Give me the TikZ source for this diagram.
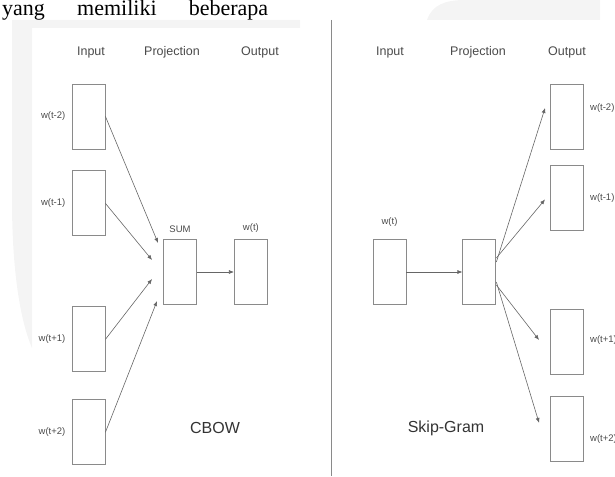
\documentclass[tikz,border=0pt]{standalone}
\usepackage{fontspec}
\setmainfont{Liberation Serif}
\newfontfamily\arial{Liberation Sans}
\usepackage{xcolor}
\usepackage{tikz}
\usetikzlibrary{positioning, arrows.meta}
\definecolor{boxgray}{HTML}{8A8A8A}
\definecolor{txtgray}{HTML}{4A4A4A}
\definecolor{wmark}{HTML}{F4F4F4}
\tikzset{
    vecbox/.style={rectangle, draw=boxgray, line width=0.9pt, fill=white, minimum width=33pt, minimum height=65pt, inner sep=0pt},
    head/.style={font=\arial\fontsize{12.5}{14}\selectfont, text=txtgray, inner sep=1pt},
    wlabel/.style={font=\arial\fontsize{9.5}{11}\selectfont, text=txtgray, inner sep=1pt},
    model/.style={font=\arial\fontsize{16}{18}\selectfont, text=black!80, inner sep=1pt},
    arrow/.style={-{Latex[length=5pt, width=4pt]}, draw=black!60, line width=0.6pt}
}

\begin{document}
\begin{tikzpicture}[x=1pt, y=-1pt]
        \useasboundingbox (0,0) rectangle (615,476);

        % Watermark
        \fill[wmark] (12,20) -- (300,20) -- (300,28) -- (32,28) -- (32,348)
            .. controls (20,320) and (12,270) .. (12,200) -- cycle;
        \fill[wmark] (427,20) .. controls (432,5) and (445,0) .. (465,0) -- (600,0) -- (600,20) -- cycle;

        % Page text
        \node[anchor=base west, inner sep=0pt, font=\fontsize{22}{25}\selectfont] (para) at (2,16)
            {\makebox[266pt][s]{yang memiliki beberapa}};

        % Separator
        \coordinate (septop) at (331,20);
        \coordinate (sepbot) at (331,476);
        \draw[boxgray, line width=0.9pt] (septop) -- (sepbot);

        % CBOW: headers
        \node[head] (chin) at (91,52) {Input};
        \node[head] (chproj) at (172,52) {Projection};
        \node[head] (chout) at (260,52) {Output};

        % CBOW: input words
        \node[vecbox] (cin1) at (88.5,116.5) {};
        \node[vecbox, below=21pt of cin1] (cin2) {};
        \node[vecbox, below=70pt of cin2] (cin3) {};
        \node[vecbox, below=27pt of cin3] (cin4) {};
        \node[wlabel, left=5pt of cin1] (lcin1) {w(t-2)};
        \node[wlabel, left=5pt of cin2] (lcin2) {w(t-1)};
        \node[wlabel, left=5pt of cin3] (lcin3) {w(t+1)};
        \node[wlabel, left=5pt of cin4] (lcin4) {w(t+2)};

        % CBOW: projection and output
        \node[vecbox] (sum) at (180,272) {};
        \node[vecbox, right=37pt of sum] (cout) {};
        \node[wlabel, above=5pt of sum] (lsum) {SUM};
        \node[wlabel, above=5pt of cout] (lcout) {w(t)};

        \coordinate (csum1) at ([shift={(-5,-29)}]sum.west);
        \coordinate (csum2) at ([shift={(-11,-12)}]sum.west);
        \coordinate (csum3) at ([shift={(-11,7)}]sum.west);
        \coordinate (csum4) at ([shift={(-6,29)}]sum.west);

        % CBOW: wires
        \foreach \i in {1,...,4}
            \draw[arrow] (cin\i.east) -- (csum\i);
        \draw[arrow] (sum) -- (cout);

        \node[model] (cbow) at (215,428) {CBOW};

        % Skip-Gram: headers
        \node[head] (shin) at (390,52) {Input};
        \node[head] (shproj) at (478,52) {Projection};
        \node[head] (shout) at (567,52) {Output};

        % Skip-Gram: input and projection
        \node[vecbox] (sin) at (389.5,272) {};
        \node[vecbox, right=56pt of sin] (proj) {};
        \node[wlabel, above=11pt of sin] (lsin) {w(t)};

        % Skip-Gram: output words
        \node[vecbox] (sout1) at (567,116.5) {};
        \node[vecbox, below=16pt of sout1] (sout2) {};
        \node[vecbox] (sout3) at (567,342) {};
        \node[vecbox, below=21pt of sout3] (sout4) {};
        \node[wlabel, right=5pt of sout1, yshift=8.5pt] (lsout1) {w(t-2)};
        \node[wlabel, right=5pt of sout2] (lsout2) {w(t-1)};
        \node[wlabel, right=5pt of sout3, yshift=2pt] (lsout3) {w(t+1)};
        \node[wlabel, right=5pt of sout4, yshift=-10pt] (lsout4) {w(t+2)};

        \coordinate (sp1) at ([yshift=10pt]proj.east);
        \coordinate (sp2) at ([yshift=14pt]proj.east);
        \coordinate (sp3) at ([yshift=-13pt]proj.east);
        \coordinate (sp4) at ([yshift=-10pt]proj.east);
        \coordinate (se1) at ([shift={(-5,-8.5)}]sout1.west);
        \coordinate (se2) at ([shift={(-5,1)}]sout2.west);
        \coordinate (se3) at ([shift={(-11,-2)}]sout3.west);
        \coordinate (se4) at ([shift={(-11,-6)}]sout4.west);

        % Skip-Gram: wires
        \draw[arrow] (sin) -- (proj);
        \foreach \i in {1,...,4}
            \draw[arrow] (sp\i) -- (se\i);

        \node[model] (skip) at (446,428) {Skip-Gram};

    \end{tikzpicture}
\end{document}
